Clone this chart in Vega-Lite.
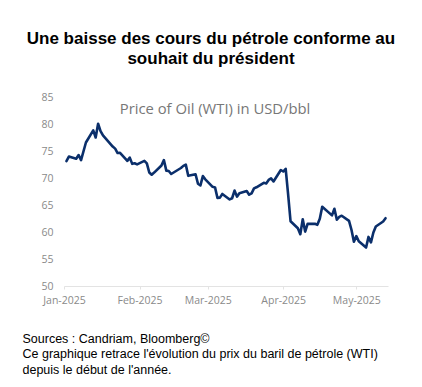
{
  "$schema": "https://vega.github.io/schema/vega-lite/v6.json",
  "width": 324,
  "height": 189,
  "autosize": {"type": "none"},
  "padding": {"left": 64, "top": 97, "right": 34, "bottom": 101},
  "background": "white",
  "config": {"view": {"stroke": null}},
  "title": {
    "text": ["Une baisse des cours du pétrole conforme au", "souhait du président"],
    "anchor": "middle",
    "frame": "group",
    "dx": -15,
    "font": "Liberation Sans",
    "fontSize": 17,
    "fontWeight": "bold",
    "color": "#000000",
    "lineHeight": 20,
    "offset": 24
  },
  "layer": [
    {
      "data": {
        "values": [
          {"date": "2025-01-02", "price": 73.13}, {"date": "2025-01-03", "price": 73.96}, {"date": "2025-01-06", "price": 73.56}, {"date": "2025-01-07", "price": 74.25}, {"date": "2025-01-08", "price": 73.32}, {"date": "2025-01-10", "price": 76.57}, {"date": "2025-01-13", "price": 78.82}, {"date": "2025-01-14", "price": 77.5}, {"date": "2025-01-15", "price": 80.04}, {"date": "2025-01-16", "price": 78.68}, {"date": "2025-01-17", "price": 77.88}, {"date": "2025-01-21", "price": 75.83}, {"date": "2025-01-22", "price": 75.44}, {"date": "2025-01-23", "price": 74.62}, {"date": "2025-01-24", "price": 74.66}, {"date": "2025-01-27", "price": 73.17}, {"date": "2025-01-28", "price": 73.77}, {"date": "2025-01-29", "price": 72.62}, {"date": "2025-01-30", "price": 72.73}, {"date": "2025-01-31", "price": 72.53},
          {"date": "2025-02-03", "price": 73.16}, {"date": "2025-02-04", "price": 72.7}, {"date": "2025-02-05", "price": 71.03}, {"date": "2025-02-06", "price": 70.61}, {"date": "2025-02-07", "price": 71.0}, {"date": "2025-02-10", "price": 72.32}, {"date": "2025-02-11", "price": 73.32}, {"date": "2025-02-12", "price": 71.37}, {"date": "2025-02-13", "price": 71.29}, {"date": "2025-02-14", "price": 70.74}, {"date": "2025-02-18", "price": 71.85}, {"date": "2025-02-19", "price": 72.25}, {"date": "2025-02-20", "price": 72.48}, {"date": "2025-02-21", "price": 70.4}, {"date": "2025-02-24", "price": 70.7}, {"date": "2025-02-25", "price": 68.93}, {"date": "2025-02-26", "price": 68.62}, {"date": "2025-02-27", "price": 70.35}, {"date": "2025-02-28", "price": 69.76},
          {"date": "2025-03-03", "price": 68.37}, {"date": "2025-03-04", "price": 68.26}, {"date": "2025-03-05", "price": 66.31}, {"date": "2025-03-06", "price": 66.36}, {"date": "2025-03-07", "price": 67.04}, {"date": "2025-03-10", "price": 66.03}, {"date": "2025-03-11", "price": 66.25}, {"date": "2025-03-12", "price": 67.68}, {"date": "2025-03-13", "price": 66.55}, {"date": "2025-03-14", "price": 67.18}, {"date": "2025-03-17", "price": 67.58}, {"date": "2025-03-18", "price": 66.9}, {"date": "2025-03-19", "price": 67.16}, {"date": "2025-03-20", "price": 68.07}, {"date": "2025-03-21", "price": 68.28}, {"date": "2025-03-24", "price": 69.11}, {"date": "2025-03-25", "price": 69.0}, {"date": "2025-03-26", "price": 69.65}, {"date": "2025-03-27", "price": 69.92}, {"date": "2025-03-28", "price": 69.36}, {"date": "2025-03-31", "price": 71.48},
          {"date": "2025-04-01", "price": 71.2}, {"date": "2025-04-02", "price": 71.71}, {"date": "2025-04-03", "price": 66.95}, {"date": "2025-04-04", "price": 61.99}, {"date": "2025-04-07", "price": 60.7}, {"date": "2025-04-08", "price": 59.58}, {"date": "2025-04-09", "price": 62.35}, {"date": "2025-04-10", "price": 60.07}, {"date": "2025-04-11", "price": 61.5}, {"date": "2025-04-14", "price": 61.53}, {"date": "2025-04-15", "price": 61.33}, {"date": "2025-04-16", "price": 62.47}, {"date": "2025-04-17", "price": 64.68}, {"date": "2025-04-21", "price": 63.08}, {"date": "2025-04-22", "price": 64.31}, {"date": "2025-04-23", "price": 62.27}, {"date": "2025-04-24", "price": 62.79}, {"date": "2025-04-25", "price": 63.02}, {"date": "2025-04-28", "price": 62.05}, {"date": "2025-04-29", "price": 60.42}, {"date": "2025-04-30", "price": 58.21},
          {"date": "2025-05-01", "price": 59.24}, {"date": "2025-05-02", "price": 58.29}, {"date": "2025-05-05", "price": 57.13}, {"date": "2025-05-06", "price": 59.09}, {"date": "2025-05-07", "price": 58.07}, {"date": "2025-05-08", "price": 59.91}, {"date": "2025-05-09", "price": 61.02}, {"date": "2025-05-12", "price": 61.95}, {"date": "2025-05-13", "price": 62.55}
        ]
      },
      "mark": {"type": "line", "color": "#0b2f6b", "strokeWidth": 2.6, "strokeJoin": "round", "strokeCap": "round"},
      "encoding": {
        "x": {
          "field": "date",
          "type": "temporal",
          "scale": {"type": "utc", "domain": [{"year": 2025, "month": 1, "date": 1, "utc": true}, {"year": 2025, "month": 5, "date": 14, "utc": true}]},
          "axis": {
            "format": "%b-%Y",
            "tickCount": {"interval": "month", "step": 1},
            "labelFlush": false,
            "labelOverlap": false,
            "grid": false,
            "domainColor": "#e3e3e3",
            "domainWidth": 1,
            "tickColor": "#e3e3e3",
            "tickSize": 3,
            "labelColor": "#8a8a8a",
            "labelFont": "Open Sans",
            "labelFontSize": 10.5,
            "labelPadding": 6,
            "title": ["Sources : Candriam, Bloomberg©", "Ce graphique retrace l'évolution du prix du baril de pétrole (WTI)", "depuis le début de l'année."],
            "titleFont": "Liberation Sans",
            "titleFontSize": 12.5,
            "titleFontWeight": "normal",
            "titleColor": "#000000",
            "titleAnchor": "start",
            "titleAlign": "left",
            "titleBaseline": "middle",
            "titleLineHeight": 15.5,
            "titleX": -42,
            "titleY": 52
          }
        },
        "y": {
          "field": "price",
          "type": "quantitative",
          "scale": {"domain": [50, 85], "nice": false, "zero": false},
          "axis": {
            "values": [50, 55, 60, 65, 70, 75, 80, 85],
            "tickCount": 8,
            "labelOverlap": false,
            "grid": false,
            "domain": false,
            "ticks": false,
            "labelColor": "#8a8a8a",
            "labelFont": "Open Sans",
            "labelFontSize": 10.5,
            "labelPadding": 11,
            "title": null
          }
        }
      }
    },
    {
      "data": {"values": [{"label": "Price of Oil (WTI) in USD/bbl"}]},
      "mark": {"type": "text", "font": "Open Sans", "fontSize": 14.8, "color": "#777777", "align": "center", "baseline": "middle"},
      "encoding": {
        "x": {"datum": {"year": 2025, "month": 3, "date": 4, "utc": true}, "type": "temporal"},
        "y": {
          "datum": 82.6,
          "type": "quantitative",
          "axis": {
            "values": [50, 55, 60, 65, 70, 75, 80, 85],
            "tickCount": 8,
            "labelOverlap": false,
            "grid": false,
            "domain": false,
            "ticks": false,
            "labelColor": "#8a8a8a",
            "labelFont": "Open Sans",
            "labelFontSize": 10.5,
            "labelPadding": 11,
            "title": null
          }
        },
        "text": {"field": "label"}
      }
    }
  ]
}
